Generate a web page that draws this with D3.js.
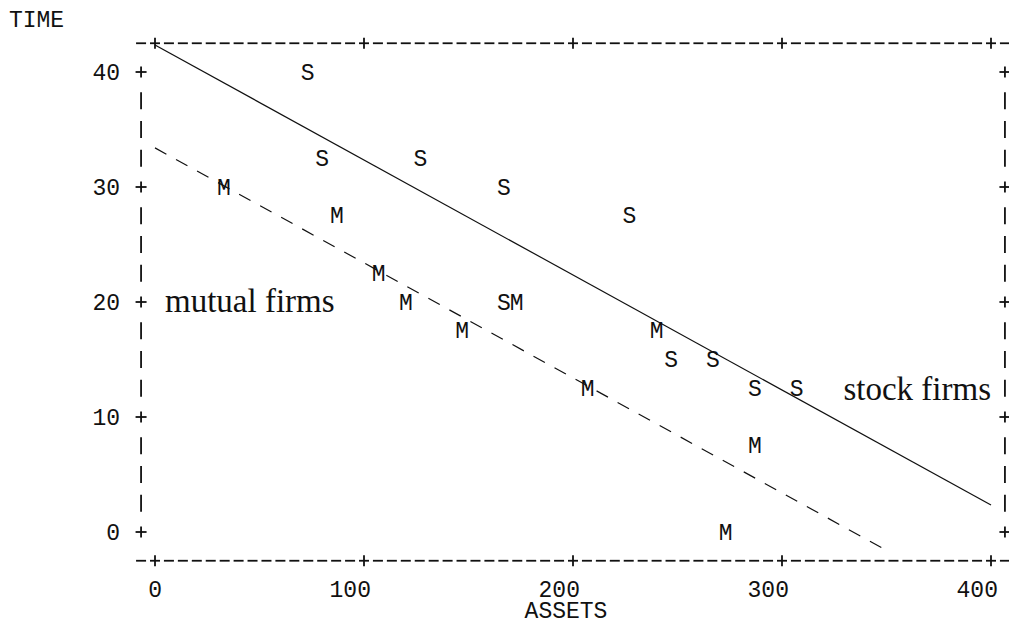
<!DOCTYPE html>
<html>
<head>
<meta charset="utf-8">
<script src="https://cdn.jsdelivr.net/npm/d3@7/dist/d3.min.js"></script>
<style>
  html, body { margin: 0; padding: 0; background: #fff; }
  svg { display: block; }
</style>
</head>
<body>
<svg id="chart" width="1009" height="625"></svg>
<script>
// ---- data ----
const xTicks = [0, 100, 200, 300, 400];
const yTicks = [0, 10, 20, 30, 40];
const xTitle = "ASSETS";
const yTitle = "TIME";

const mutualAssets = [33, 87, 107, 120, 147, 173, 207, 240, 273, 287];
const mutualTime   = [30, 27.5, 22.5, 20, 17.5, 20, 12.5, 17.5, 0, 7.5];
const stockAssets  = [73, 80, 127, 167, 227, 167, 247, 267, 287, 307];
const stockTime    = [40, 32.5, 32.5, 30, 27.5, 20, 15, 15, 12.5, 12.5];

const stockFitAssets  = [0, 400];
const stockFitTime    = [42.35, 2.35];
const mutualFitAssets = [0, 350];
const mutualFitTime   = [33.4, -1.6];

const mutualLabel = "mutual firms";
const stockLabel = "stock firms";

// ---- layout ----
const svg = d3.select("#chart");
const x = d3.scaleLinear().domain([0, 400]).range([155, 991]);
const y = d3.scaleLinear().domain([0, 40]).range([532, 72]);

const colUnit = 100 / 15;   // assets per printer column
const rowUnit = 2.5;        // time per printer row
const colW = x(colUnit) - x(0);
const mono = "'Liberation Mono', 'DejaVu Sans Mono', monospace";
const monoSize = 23;
const capOff = 7.6;         // baseline offset to centre capitals on a row
const ink = "#111";

// ---- frame (line-printer style) ----
const frame = svg.append("g").attr("stroke", ink).attr("stroke-width", 1.8);
const cols = d3.range(-1, 62);
const rows = d3.range(0, 17);
const topY = y(17 * rowUnit), botY = y(-1 * rowUnit);
const leftX = x(-1 * colUnit), rightX = x(61 * colUnit);
const tickCols = xTicks.map(v => v / colUnit);

[topY, botY].forEach(yy => {
  cols.forEach(c => {
    const cx = x(c * colUnit);
    frame.append("line").attr("x1", cx - 5).attr("x2", cx + 5).attr("y1", yy).attr("y2", yy);
    if (tickCols.includes(c)) {
      frame.append("line").attr("x1", cx).attr("x2", cx).attr("y1", yy - 5.5).attr("y2", yy + 5.5);
    }
  });
});

[leftX, rightX].forEach(xx => {
  rows.forEach(r => {
    const cy = y(r * rowUnit);
    if (r % 4 === 0) {
      frame.append("line").attr("x1", xx - 5.5).attr("x2", xx + 5.5).attr("y1", cy).attr("y2", cy);
      frame.append("line").attr("x1", xx).attr("x2", xx).attr("y1", cy - 5.5).attr("y2", cy + 5.5);
    } else {
      frame.append("line").attr("x1", xx).attr("x2", xx).attr("y1", cy - 8.5).attr("y2", cy + 8.5);
    }
  });
});

// ---- tick labels ----
const txt = svg.append("g").attr("font-family", mono).attr("font-size", monoSize).attr("fill", ink);
yTicks.forEach(v => {
  txt.append("text").attr("x", x(-2.5 * colUnit)).attr("y", y(v) + capOff)
    .attr("text-anchor", "end").text(v);
});
// last digit sits in the tick column
xTicks.forEach(v => {
  txt.append("text").attr("x", x(v) + colW / 2).attr("y", y(-2 * rowUnit) + capOff)
    .attr("text-anchor", "end").text(v);
});
txt.append("text").attr("x", x(29.5 * colUnit)).attr("y", 610 + capOff)
  .attr("text-anchor", "middle").text(xTitle);
txt.append("text").attr("x", x(-8.5 * colUnit)).attr("y", 19 + capOff)
  .attr("text-anchor", "middle").text(yTitle);

// ---- fitted lines ----
const line = d3.line().x(d => x(d[0])).y(d => y(d[1]));
svg.append("path")
  .datum(stockFitAssets.map((a, i) => [a, stockFitTime[i]]))
  .attr("d", line).attr("fill", "none").attr("stroke", ink).attr("stroke-width", 1.2);
svg.append("path")
  .datum(mutualFitAssets.map((a, i) => [a, mutualFitTime[i]]))
  .attr("d", line).attr("fill", "none").attr("stroke", ink).attr("stroke-width", 1.2)
  .attr("stroke-dasharray", "13,11");

// ---- points ----
const pts = svg.append("g").attr("font-family", mono).attr("font-size", monoSize).attr("fill", ink)
  .attr("text-anchor", "middle");
pts.selectAll("text.s").data(stockAssets.map((a, i) => [a, stockTime[i]])).join("text")
  .attr("class", "s").attr("x", d => x(d[0])).attr("y", d => y(d[1]) + capOff).text("S");
pts.selectAll("text.m").data(mutualAssets.map((a, i) => [a, mutualTime[i]])).join("text")
  .attr("class", "m").attr("x", d => x(d[0])).attr("y", d => y(d[1]) + capOff).text("M");

// ---- group labels ----
const serif = "'Liberation Serif', 'DejaVu Serif', serif";
svg.append("text").attr("font-family", serif).attr("font-size", 33).attr("fill", ink)
  .attr("x", 165).attr("y", y(20) + 9.5).text(mutualLabel);
svg.append("text").attr("font-family", serif).attr("font-size", 33).attr("fill", ink)
  .attr("text-anchor", "end").attr("x", x(400)).attr("y", y(12.5) + 12).text(stockLabel);
</script>
</body>
</html>
